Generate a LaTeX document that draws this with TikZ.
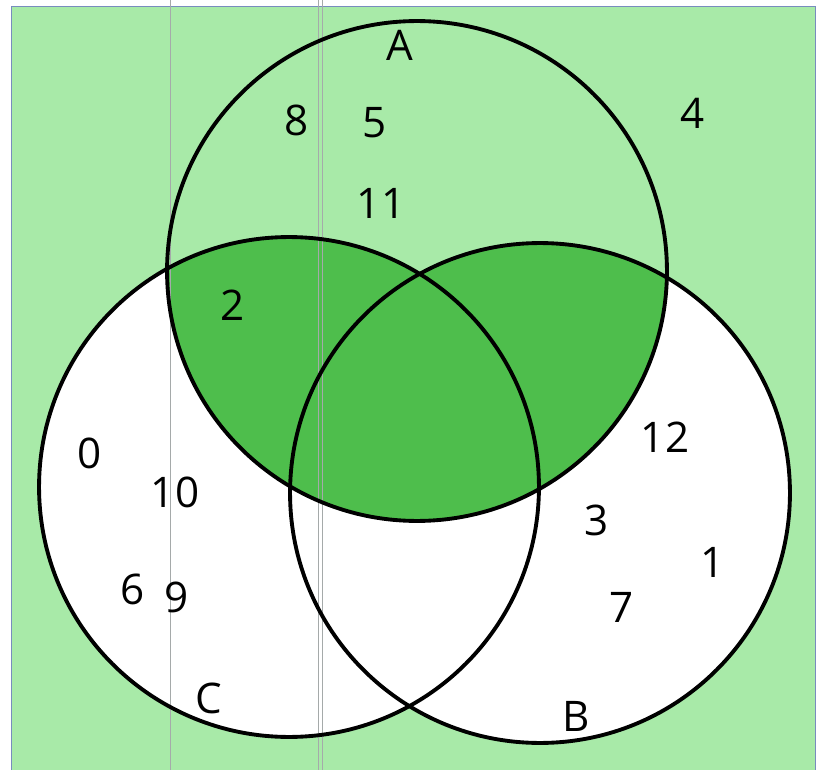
\documentclass[tikz,border=0pt]{standalone}
\usepackage{fontspec}
\setmainfont{Open Sans}
\usepackage{tikz}
\usetikzlibrary{positioning}

\definecolor{paleGreen}{RGB}{168,234,168}
\definecolor{markerGreen}{RGB}{78,190,76}
\definecolor{rulingGrey}{RGB}{165,170,170}
\definecolor{frameBlue}{RGB}{120,140,190}

\begin{document}
\begin{tikzpicture}[
    x = 0.02cm, y = -0.02cm,
    semithick,
    num/.style={font=\fontsize{24}{28}\selectfont, inner sep=0pt},
    setring/.style={draw, line width=2.2pt}
]
\useasboundingbox (0,0) rectangle (825,770);

% --- paper and ruling ---
\fill[white] (0,0) rectangle (825,770);
\fill[paleGreen] (11,6) rectangle (815,770);
\draw[frameBlue, thin] (11,770) -- (11,6) -- (815,6) -- (815,770);
\coordinate (cA) at (417,271);
\coordinate (cC) at (289,487);
\coordinate (cB) at (540,493);

% --- B and C white ---
\fill[white] (cC) circle[radius=5cm];
\fill[white] (cB) circle[radius=5cm];

% --- A and (B or C) shaded ---
\begin{scope}
    \clip (cA) circle[radius=5cm];
    \fill[markerGreen] (cC) circle[radius=5cm];
    \fill[markerGreen] (cB) circle[radius=5cm];
\end{scope}

% margin lines of the paper
\foreach \xr in {170, 318, 322}
    \draw[rulingGrey, very thin] (\xr,0) -- (\xr,770);

% --- the three sets ---
\draw[setring] (cA) circle[radius=5cm];
\draw[setring] (cC) circle[radius=5cm];
\draw[setring] (cB) circle[radius=5cm];

% --- set names ---
\node[num] (labA) at (400,45) {A};
\node[num] (labB) at (576,716) {B};
\node[num] (labC) at (209,698) {C};

% --- elements ---
\node[num] (e8) at (297,120) {8};
\node[num] (e5) at (375,123) {5};
\node[num] (e11) at (381,203) {11};
\node[num] (e4) at (693,113) {4};
\node[num] (e2) at (233,305) {2};
\node[num] (e0) at (90,453) {0};
\node[num] (e10) at (175,492) {10};
\node[num] (e6) at (133,589) {6};
\node[num] (e9) at (177,597) {9};
\node[num] (e12) at (665,437) {12};
\node[num] (e3) at (597,520) {3};
\node[num] (e1) at (713,562) {1};
\node[num] (e7) at (622,607) {7};

\end{tikzpicture}
\end{document}
